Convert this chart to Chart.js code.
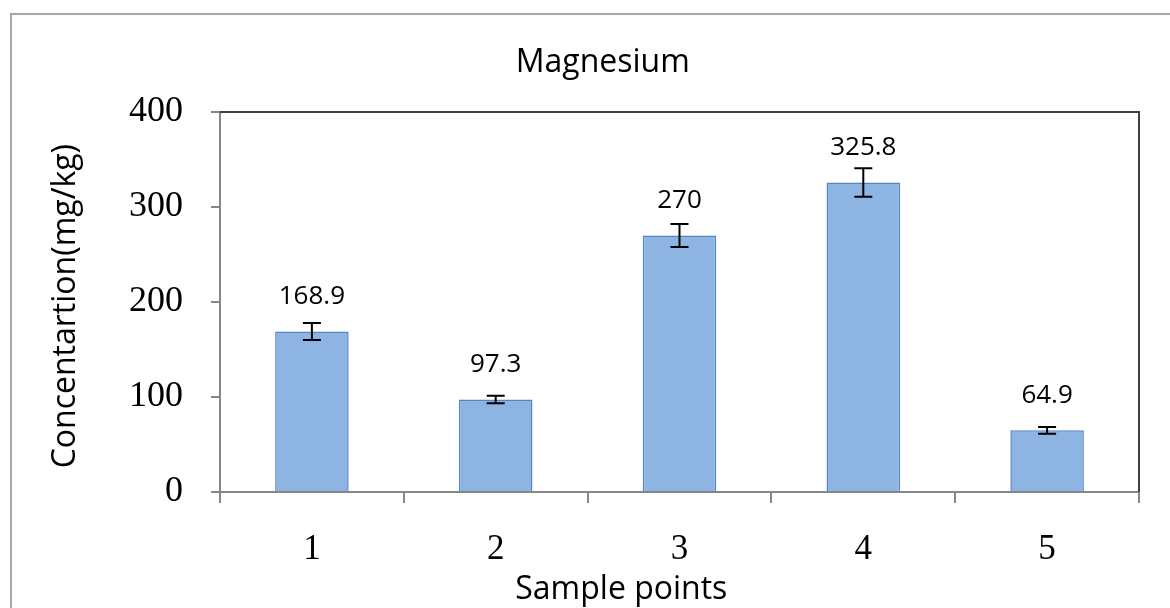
<!DOCTYPE html>
<html>
<head>
<meta charset="utf-8">
<script src="https://cdn.jsdelivr.net/npm/chart.js@4.4.1/dist/chart.umd.min.js"></script>
<style>
  html, body { margin: 0; padding: 0; background: #fff; }
  canvas { display: block; }
</style>
</head>
<body>
<canvas id="myChart" width="1170" height="608"></canvas>
<script>
const samplePoints = ['1', '2', '3', '4', '5'];
const magnesium = [168.9, 97.3, 270, 325.8, 64.9];
const errores = [9, 4, 12, 15, 3.5];
const yTicks = [0, 100, 200, 300, 400];

const fuenteSans = '"Open Sans", "Noto Sans", sans-serif';
const fuenteSerif = '"Liberation Serif", "DejaVu Serif", serif';

// los espacios corren los titulos como en el original
const tituloX = 'Sample points' + ' '.repeat(14);
const tituloY = 'Concentartion(mg/kg) ';
const tituloGrafico = ' '.repeat(8) + 'Magnesium';

// marco exterior y borde superior/derecho del area de trazado
const marcoPlugin = {
  id: 'marco',
  beforeDraw(chart) {
    const ctx = chart.ctx;
    ctx.save();
    ctx.fillStyle = '#fff';
    ctx.fillRect(0, 0, chart.width, chart.height);
    ctx.strokeStyle = '#a6a6a6';
    ctx.lineWidth = 2;
    ctx.strokeRect(11, 14, 1300, 800);
    ctx.restore();
  },
  afterDatasetsDraw(chart) {
    const ctx = chart.ctx;
    const a = chart.chartArea;
    ctx.save();
    ctx.strokeStyle = '#404040';
    ctx.lineWidth = 2;
    ctx.beginPath();
    ctx.moveTo(a.left, a.top);
    ctx.lineTo(a.right, a.top);
    ctx.lineTo(a.right, a.bottom);
    ctx.stroke();
    ctx.restore();
  }
};

// barras de error y etiquetas de valor
const errorPlugin = {
  id: 'errorBars',
  afterDatasetsDraw(chart) {
    const ctx = chart.ctx;
    const y = chart.scales.y;
    const meta = chart.getDatasetMeta(0);
    ctx.save();
    meta.data.forEach((bar, i) => {
      const v = magnesium[i];
      const e = errores[i];
      const yTop = y.getPixelForValue(v + e);
      const yBot = y.getPixelForValue(v - e);
      ctx.strokeStyle = '#000';
      ctx.lineWidth = 2;
      ctx.beginPath();
      ctx.moveTo(bar.x, yTop);
      ctx.lineTo(bar.x, yBot);
      ctx.moveTo(bar.x - 9, yTop);
      ctx.lineTo(bar.x + 9, yTop);
      ctx.moveTo(bar.x - 9, yBot);
      ctx.lineTo(bar.x + 9, yBot);
      ctx.stroke();

      ctx.fillStyle = '#000';
      ctx.font = '26px ' + fuenteSans;
      ctx.textAlign = 'center';
      ctx.textBaseline = 'middle';
      ctx.fillText(String(v), bar.x, y.getPixelForValue(v) - 35);
    });
    ctx.restore();
  }
};

const config = {
  type: 'bar',
  data: {
    labels: samplePoints,
    datasets: [{
      label: 'Magnesium',
      data: magnesium,
      backgroundColor: '#8eb4e3',
      borderColor: '#5384c4',
      borderWidth: 1.5,
      barPercentage: 0.5,
      categoryPercentage: 0.8
    }]
  },
  options: {
    responsive: false,
    animation: false,
    devicePixelRatio: 1,
    layout: { padding: { left: 0, top: 0, right: 31, bottom: 0 } },
    plugins: {
      legend: { display: false },
      tooltip: { enabled: false },
      title: {
        display: true,
        text: tituloGrafico,
        color: '#000',
        font: { family: fuenteSans, size: 32, weight: 'normal' },
        padding: { top: 44, bottom: 29.6 }
      }
    },
    scales: {
      x: {
        grid: {
          drawOnChartArea: false,
          tickLength: 11,
          color: '#868686',
          lineWidth: 2
        },
        border: { color: '#868686', width: 2 },
        ticks: {
          color: '#000',
          padding: 26,
          font: { family: fuenteSerif, size: 35 }
        },
        title: {
          display: true,
          text: tituloX,
          color: '#000',
          font: { family: fuenteSans, size: 32 },
          padding: { top: 0, bottom: -1 }
        },
        afterFit(scale) { scale.height = 116; }
      },
      y: {
        min: 0,
        max: 400,
        afterBuildTicks(scale) {
          scale.ticks = yTicks.map(v => ({ value: v }));
        },
        grid: {
          drawOnChartArea: false,
          tickLength: 9,
          color: '#868686',
          lineWidth: 2
        },
        border: { color: '#868686', width: 2 },
        ticks: {
          color: '#000',
          padding: 28,
          font: { family: fuenteSerif, size: 36 }
        },
        title: {
          display: true,
          text: tituloY,
          color: '#000',
          font: { family: fuenteSans, size: 32 },
          padding: { top: 47, bottom: 0 }
        },
        afterFit(scale) { scale.width = 220; }
      }
    }
  },
  plugins: [marcoPlugin, errorPlugin]
};

new Chart(document.getElementById('myChart'), config);
</script>
</body>
</html>
